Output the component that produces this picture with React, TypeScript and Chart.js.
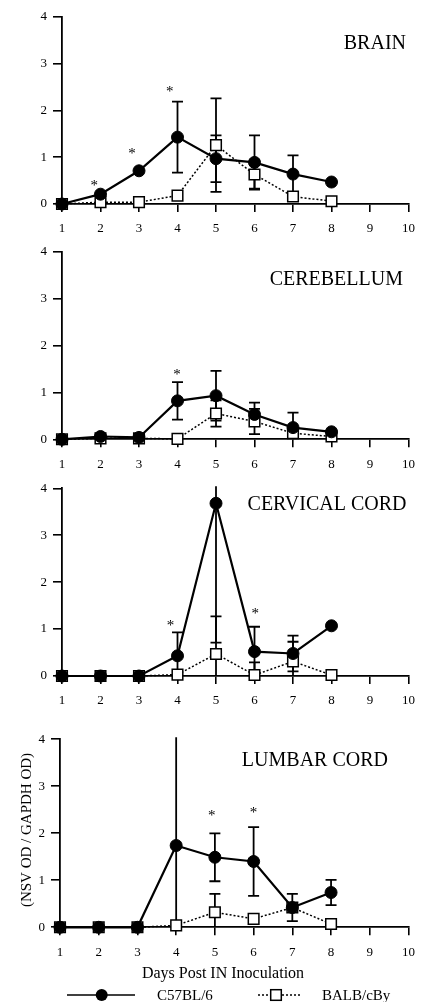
import React, { useEffect, useRef } from 'react';
import { Chart, registerables } from 'chart.js';

Chart.register(...registerables);

// ---------------- data ----------------
const days = [1, 2, 3, 4, 5, 6, 7, 8];
const xTickValues = [1, 2, 3, 4, 5, 6, 7, 8, 9, 10];
const yTickValues = [0, 1, 2, 3, 4];
const seriesLabels = ['C57BL/6', 'BALB/cBy'];
const panelTitles = ['BRAIN', 'CEREBELLUM', 'CERVICAL CORD', 'LUMBAR CORD'];
const xAxisTitle = 'Days Post IN Inoculation';
const yAxisTitle = '(NSV OD / GAPDH OD)';

const brainC57 = [0, 0.21, 0.71, 1.43, 0.97, 0.89, 0.64, 0.47];
const brainC57Err = [0, 0, 0, 0.76, 0.5, 0.58, 0.4, 0];
const brainBalb = [0, 0.04, 0.04, 0.18, 1.26, 0.63, 0.16, 0.06];
const brainBalbErr = [0, 0, 0, 0, 1.0, 0.3, 0, 0];
const brainStarDays = [1.84, 2.82, 3.8];
const brainStarLevels = [0.45, 1.13, 2.45];

const cerebC57 = [0, 0.06, 0.04, 0.82, 0.93, 0.53, 0.25, 0.16];
const cerebC57Err = [0, 0, 0, 0.4, 0.53, 0.25, 0.32, 0];
const cerebBalb = [0, 0.02, 0.02, 0.01, 0.55, 0.38, 0.13, 0.06];
const cerebBalbErr = [0, 0, 0, 0, 0.28, 0.27, 0, 0];
const cerebStarDays = [3.99];
const cerebStarLevels = [1.44];

const cervC57 = [0, 0, 0, 0.43, 3.68, 0.52, 0.48, 1.07];
const cervC57Err = [0, 0, 0, 0.5, 2.97, 0.53, 0.38, 0];
const cervBalb = [0, 0, 0, 0.03, 0.47, 0.02, 0.31, 0.02];
const cervBalbErr = [0, 0, 0, 0, 0.8, 0.27, 0.42, 0];
const cervStarDays = [3.82, 6.02];
const cervStarLevels = [1.14, 1.39];

const lumbC57 = [0, 0, 0, 1.74, 1.49, 1.4, 0.42, 0.74];
const lumbC57Err = [0, 0, 0, 2.6, 0.51, 0.73, 0.29, 0.27];
const lumbBalb = [0, 0, 0, 0.04, 0.32, 0.18, 0.42, 0.07];
const lumbBalbErr = [0, 0, 0, 0, 0.39, 0, 0, 0];
const lumbStarDays = [4.92, 6.0];
const lumbStarLevels = [2.43, 2.5];

// ---------------- assembly ----------------
type PanelData = {
  title: string;
  c57: number[];
  c57Err: number[];
  balb: number[];
  balbErr: number[];
  starDays: number[];
  starLevels: number[];
};

const panels: PanelData[] = [
  { title: panelTitles[0], c57: brainC57, c57Err: brainC57Err, balb: brainBalb, balbErr: brainBalbErr, starDays: brainStarDays, starLevels: brainStarLevels },
  { title: panelTitles[1], c57: cerebC57, c57Err: cerebC57Err, balb: cerebBalb, balbErr: cerebBalbErr, starDays: cerebStarDays, starLevels: cerebStarLevels },
  { title: panelTitles[2], c57: cervC57, c57Err: cervC57Err, balb: cervBalb, balbErr: cervBalbErr, starDays: cervStarDays, starLevels: cervStarLevels },
  { title: panelTitles[3], c57: lumbC57, c57Err: lumbC57Err, balb: lumbBalb, balbErr: lumbBalbErr, starDays: lumbStarDays, starLevels: lumbStarLevels },
];

// ---------------- layout (page pixels) ----------------
const SERIF = '"Liberation Serif", "Times New Roman", Times, serif';
const W = 424;
const H = 1002;

type PanelLayout = { top: number; bottom: number; left: number; right: number; titleRight: number; titleY: number };
const layouts: PanelLayout[] = [
  { top: 17, bottom: 204, left: 62, right: 414, titleRight: 406, titleY: 42 },
  { top: 251.7, bottom: 439.3, left: 62, right: 414, titleRight: 403, titleY: 278 },
  { top: 488.3, bottom: 676, left: 62, right: 414, titleRight: 406.5, titleY: 503.7 },
  { top: 739.3, bottom: 927.3, left: 60, right: 410.7, titleRight: 388, titleY: 759 },
];

function canvasTopOf(L: PanelLayout) {
  return Math.max(0, Math.floor(L.top - 20));
}
function canvasHeightOf(L: PanelLayout, isLast: boolean) {
  const ct = canvasTopOf(L);
  const bottom = isLast ? H : Math.ceil(L.bottom + 40);
  return bottom - ct;
}

function makeChart(canvas: HTMLCanvasElement, p: PanelData, L: PanelLayout, isLast: boolean) {
  const ct = canvasTopOf(L);
  const h = canvasHeightOf(L, isLast);
  const padTop = L.top - ct;
  const xH = h - (L.bottom - ct);
  const errs = [p.c57Err, p.balbErr];

  const errorBars = {
    id: 'errorBars',
    beforeDatasetsDraw(chart: any) {
      const { ctx, chartArea, scales } = chart;
      const xs = scales.x;
      const ys = scales.y;
      ctx.save();
      ctx.beginPath();
      ctx.rect(chartArea.left - 10, chartArea.top - 2, chartArea.right - chartArea.left + 20, chartArea.bottom - chartArea.top + 2);
      ctx.clip();
      ctx.strokeStyle = '#000';
      ctx.lineWidth = 1.8;
      ctx.setLineDash([]);
      chart.data.datasets.forEach((ds: any, di: number) => {
        const e = errs[di];
        ds.data.forEach((pt: any, k: number) => {
          const err = e[k];
          if (!err) return;
          const px = xs.getPixelForValue(pt.x);
          const yt = ys.getPixelForValue(pt.y + err);
          const yb = ys.getPixelForValue(pt.y - err);
          ctx.beginPath();
          ctx.moveTo(px, yt);
          ctx.lineTo(px, yb);
          ctx.moveTo(px - 5.5, yt);
          ctx.lineTo(px + 5.5, yt);
          ctx.moveTo(px - 5.5, yb);
          ctx.lineTo(px + 5.5, yb);
          ctx.stroke();
        });
      });
      ctx.restore();
    },
  };

  const decor = {
    id: 'decor',
    afterDraw(chart: any) {
      const { ctx, scales } = chart;
      const xs = scales.x;
      const ys = scales.y;
      ctx.save();
      ctx.fillStyle = '#000';
      // panel title
      ctx.font = `20px ${SERIF}`;
      ctx.textAlign = 'right';
      ctx.textBaseline = 'alphabetic';
      ctx.fillText(p.title, L.titleRight, L.titleY - ct + 6.6);
      // significance stars
      ctx.font = `15px ${SERIF}`;
      ctx.textAlign = 'center';
      const m = ctx.measureText('*');
      const asc = m.actualBoundingBoxAscent || 8;
      const desc = m.actualBoundingBoxDescent || 0;
      p.starDays.forEach((d, k) => {
        const sx = xs.getPixelForValue(d);
        const sy = ys.getPixelForValue(p.starLevels[k]);
        ctx.fillText('*', sx, sy + (asc - desc) / 2);
      });
      if (isLast) {
        // x axis title
        ctx.font = `16px ${SERIF}`;
        ctx.textAlign = 'center';
        ctx.fillText(xAxisTitle, 223, 978 - ct);
        // y axis title
        ctx.save();
        ctx.translate(27, 830 - ct);
        ctx.rotate(-Math.PI / 2);
        ctx.font = `15px ${SERIF}`;
        ctx.textAlign = 'center';
        ctx.textBaseline = 'middle';
        ctx.fillText(yAxisTitle, 0, 0);
        ctx.restore();
        // legend
        const ly = 995 - ct;
        ctx.strokeStyle = '#000';
        ctx.lineWidth = 1.6;
        ctx.beginPath();
        ctx.moveTo(67, ly);
        ctx.lineTo(135, ly);
        ctx.stroke();
        ctx.beginPath();
        ctx.arc(101.7, ly, 6, 0, Math.PI * 2);
        ctx.fill();
        ctx.setLineDash([2, 2]);
        ctx.lineWidth = 1.4;
        ctx.beginPath();
        ctx.moveTo(258, ly);
        ctx.lineTo(302, ly);
        ctx.stroke();
        ctx.setLineDash([]);
        ctx.fillStyle = '#fff';
        ctx.fillRect(276 - 5.3, ly - 5.3, 10.6, 10.6);
        ctx.lineWidth = 1.5;
        ctx.strokeRect(276 - 5.3, ly - 5.3, 10.6, 10.6);
        ctx.fillStyle = '#000';
        ctx.font = `15px ${SERIF}`;
        ctx.textAlign = 'left';
        ctx.textBaseline = 'alphabetic';
        ctx.fillText(seriesLabels[0], 157, 1000 - ct);
        ctx.fillText(seriesLabels[1], 322, 1000 - ct);
      }
      ctx.restore();
    },
  };

  const tickFont = { family: SERIF, size: 13 };

  return new Chart(canvas, {
    type: 'line',
    data: {
      datasets: [
        {
          label: seriesLabels[0],
          data: days.map((d, k) => ({ x: d, y: p.c57[k] })),
          borderColor: '#000',
          borderWidth: 2.2,
          pointStyle: 'circle',
          pointRadius: 6,
          pointBackgroundColor: '#000',
          pointBorderColor: '#000',
          pointBorderWidth: 1,
          tension: 0,
          clip: false,
        },
        {
          label: seriesLabels[1],
          data: days.map((d, k) => ({ x: d, y: p.balb[k] })),
          borderColor: '#000',
          borderWidth: 1.5,
          borderDash: [2, 2],
          pointStyle: 'rect',
          pointRadius: 7.5,
          pointBackgroundColor: '#fff',
          pointBorderColor: '#000',
          pointBorderWidth: 1.5,
          tension: 0,
          clip: false,
        },
      ],
    } as any,
    options: {
      responsive: false,
      animation: false,
      events: [],
      layout: { padding: { top: padTop, right: W - L.right, left: 0, bottom: 0 } },
      plugins: {
        legend: { display: false },
        tooltip: { enabled: false },
        title: { display: false },
      },
      scales: {
        x: {
          type: 'linear',
          min: 1,
          max: 10,
          afterFit: (s: any) => {
            s.height = xH;
          },
          afterBuildTicks: (s: any) => {
            s.ticks = xTickValues.map((v) => ({ value: v }));
          },
          ticks: { color: '#000', font: tickFont, padding: 9, maxRotation: 0, autoSkip: false },
          grid: { display: true, drawOnChartArea: false, drawTicks: true, tickLength: 8, color: '#000', lineWidth: 1.6 },
          border: { display: true, color: '#000', width: 1.8 },
        },
        y: {
          type: 'linear',
          min: 0,
          max: 4,
          afterFit: (s: any) => {
            s.width = L.left;
          },
          afterBuildTicks: (s: any) => {
            s.ticks = yTickValues.map((v) => ({ value: v }));
          },
          ticks: { color: '#000', font: tickFont, padding: 6 },
          grid: { display: true, drawOnChartArea: false, drawTicks: true, tickLength: 9, color: '#000', lineWidth: 1.6 },
          border: { display: true, color: '#000', width: 1.8 },
        },
      },
    } as any,
    plugins: [errorBars, decor],
  });
}

export default function App() {
  const refs = useRef<(HTMLCanvasElement | null)[]>([]);

  useEffect(() => {
    const charts = panels.map((p, i) => makeChart(refs.current[i] as HTMLCanvasElement, p, layouts[i], i === panels.length - 1));
    return () => {
      charts.forEach((c) => c.destroy());
    };
  }, []);

  return (
    <div style={{ position: 'absolute', left: 0, top: 0, width: W, height: H, background: '#fff', overflow: 'hidden' }}>
      {layouts.map((L, i) => {
        const ct = canvasTopOf(L);
        const h = canvasHeightOf(L, i === layouts.length - 1);
        return (
          <canvas
            key={i}
            ref={(el) => {
              refs.current[i] = el;
            }}
            width={W}
            height={h}
            style={{ position: 'absolute', left: 0, top: ct, width: W, height: h, display: 'block' }}
          />
        );
      })}
    </div>
  );
}
